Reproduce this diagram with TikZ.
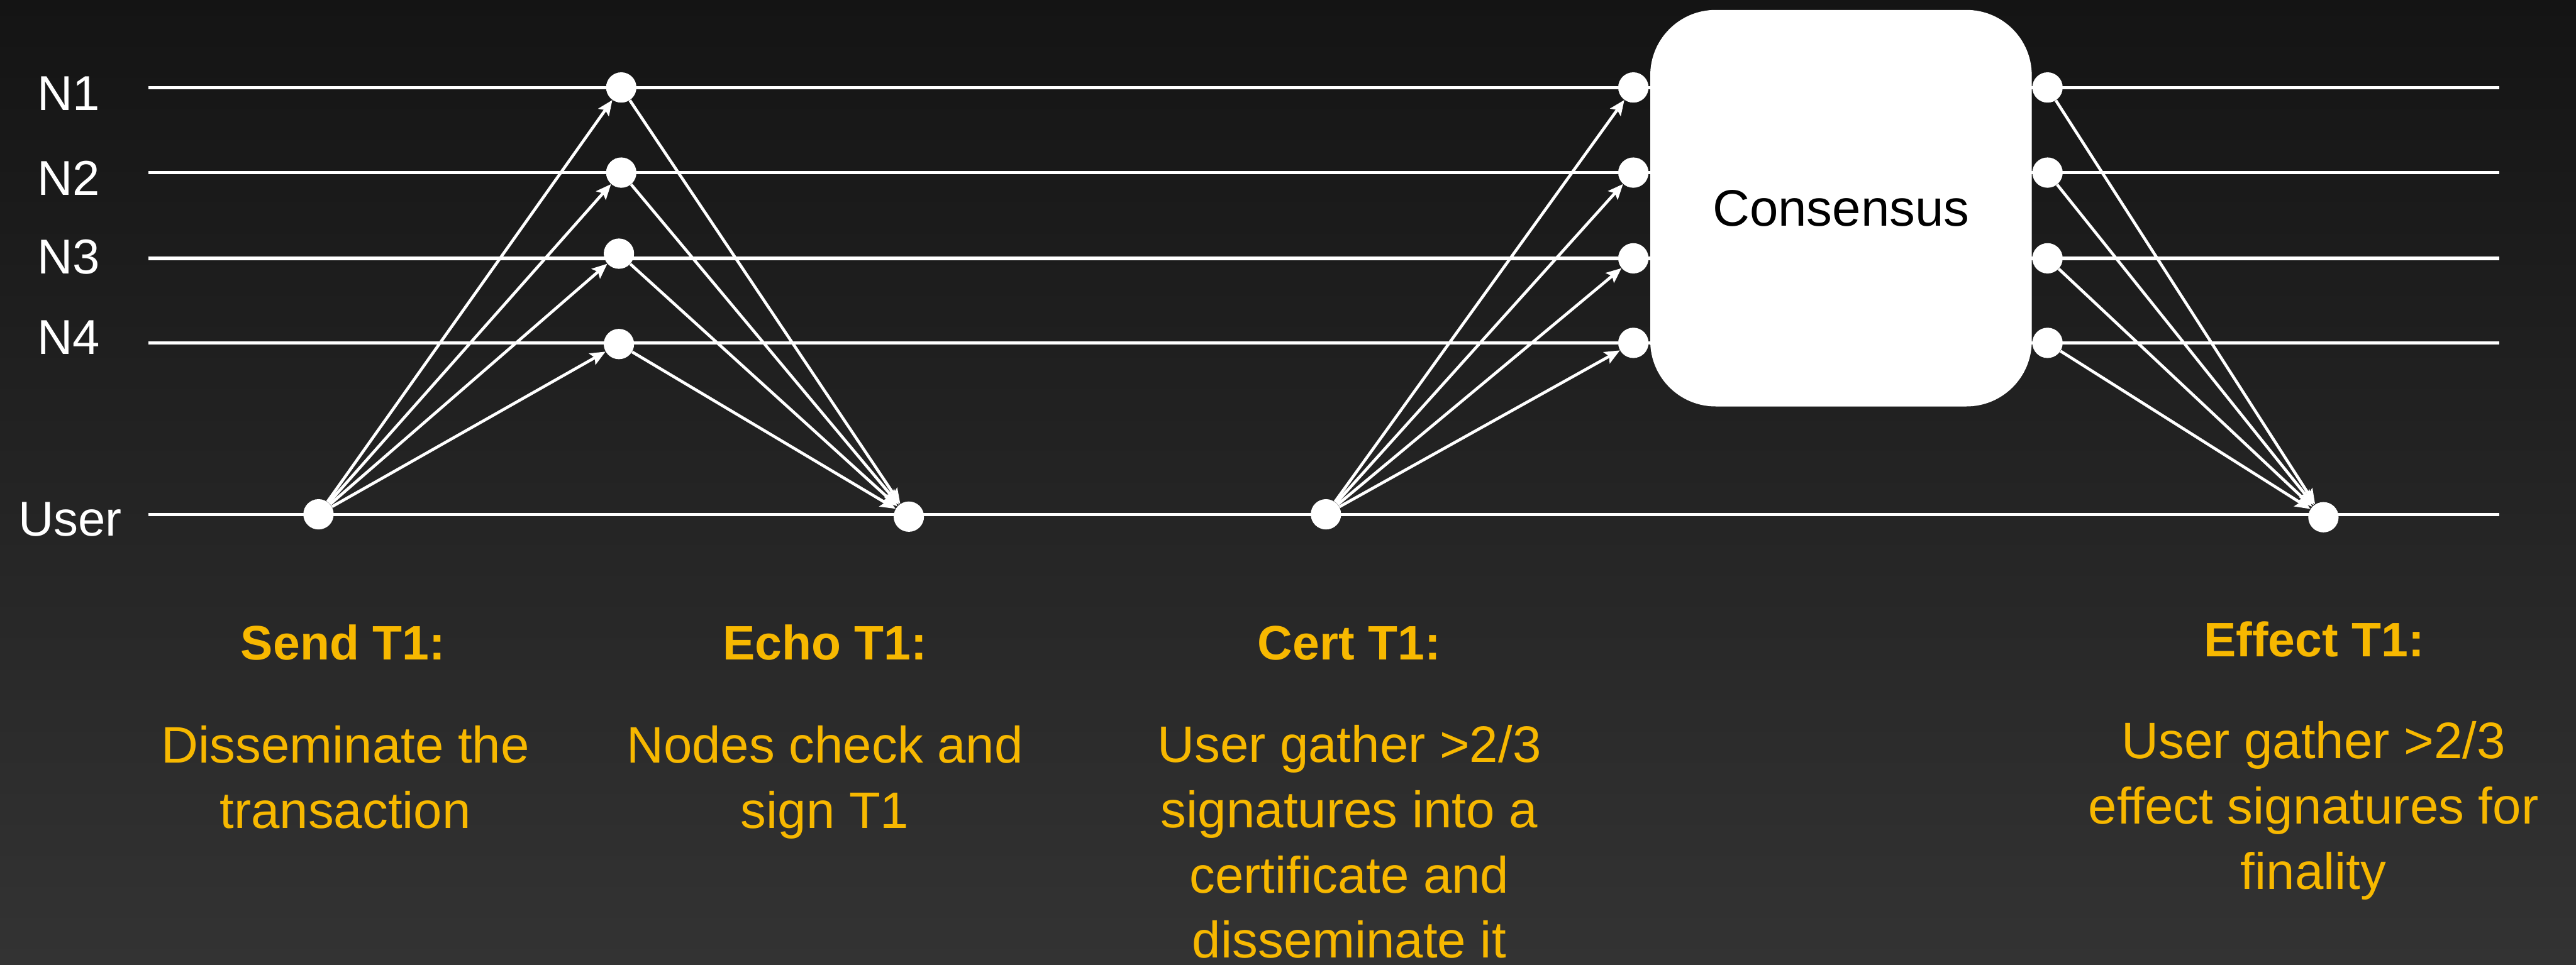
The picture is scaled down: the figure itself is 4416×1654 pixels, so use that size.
\documentclass[tikz,border=0pt]{standalone}
\usepackage{fontspec}
\setmainfont{Liberation Sans}
\usetikzlibrary{arrows.meta}
\definecolor{bgtop}{HTML}{141414}
\definecolor{bgbottom}{HTML}{333333}
\definecolor{gold}{HTML}{F7B800}
\tikzset{
  wire/.style={white, line width=2.8pt},
  dot/.style={circle, fill=white, minimum size=26pt, inner sep=0pt},
  msg/.style={white, line width=2.5pt, -{Stealth[length=13pt,width=11pt,inset=2.5pt]}},
  lane/.style={white, font=\fontsize{42}{50}\selectfont, anchor=base, inner sep=0pt},
  head/.style={gold, font=\bfseries\fontsize{41.5}{48}\selectfont, anchor=base, inner sep=0pt},
  % multi-line captions sit on the baseline of their last line
  body/.style={gold, font=\fontsize{44}{56}\selectfont, align=center, anchor=base, inner sep=0pt},
  bigbox/.style={fill=white, rounded corners=56pt, minimum width=327pt, minimum height=340pt,
    font=\fontsize{44}{50}\selectfont, text=black},
}
\begin{document}
\begin{tikzpicture}[x=0.5pt, y=-0.5pt]
% background
\shade[top color=bgtop, bottom color=bgbottom] (0,0) rectangle (4416,1654);
\useasboundingbox (0,0) rectangle (4416,1654);

% lanes
\foreach \n/\y in {1/150,2/296,3/443,4/588,U/882}{
  \coordinate (w\n a) at (254,\y);
  \coordinate (w\n b) at (4284,\y);
  \draw[wire] (w\n a) -- (w\n b);
}

% lane labels
\node[lane] (lab1) at (118,189) {N1};
\node[lane] (lab2) at (118,335) {N2};
\node[lane] (lab3) at (118,470) {N3};
\node[lane] (lab4) at (118,607) {N4};
\node[lane] (labU) at (120,919) {User};

% consensus block
\node[bigbox] (cons) at (3156,357) {Consensus};

% events
\node[dot] (su) at (546,882) {};
\node[dot] (e1) at (1065,150) {};
\node[dot] (e2) at (1065,296) {};
\node[dot] (e3) at (1061,435) {};
\node[dot] (e4) at (1061,590) {};
\node[dot] (eu) at (1558,886) {};
\node[dot] (cu) at (2273,882) {};
\node[dot] (c1) at (2800,150) {};
\node[dot] (c2) at (2800,296) {};
\node[dot] (c3) at (2800,443) {};
\node[dot] (c4) at (2800,588) {};
\node[dot] (f1) at (3510,150) {};
\node[dot] (f2) at (3510,296) {};
\node[dot] (f3) at (3510,443) {};
\node[dot] (f4) at (3510,588) {};
\node[dot] (fu) at (3983,887) {};

% messages
\foreach \i in {1,...,4}{
  \draw[msg] (su) -- (e\i);
  \draw[msg] (e\i) -- (eu);
  \draw[msg] (cu) -- (c\i);
  \draw[msg] (f\i) -- (fu);
}

% phase captions
\node[head] (hsend) at (588,1132) {Send T1:};
\node[body] (bsend) at (592,1420) {Disseminate the\\transaction};
\node[head] (hecho) at (1414,1132) {Echo T1:};
\node[body] (becho) at (1414,1420) {Nodes check and\\sign T1};
\node[head] (hcert) at (2313,1131) {Cert T1:};
\node[body] (bcert) at (2313,1643) {User gather >2/3\\signatures into a\\certificate and\\disseminate it};
\node[head] (heff) at (3967,1126) {Effect T1:};
\node[body] (beff) at (3966,1525) {User gather >2/3\\effect signatures for\\finality};
\end{tikzpicture}
\end{document}
